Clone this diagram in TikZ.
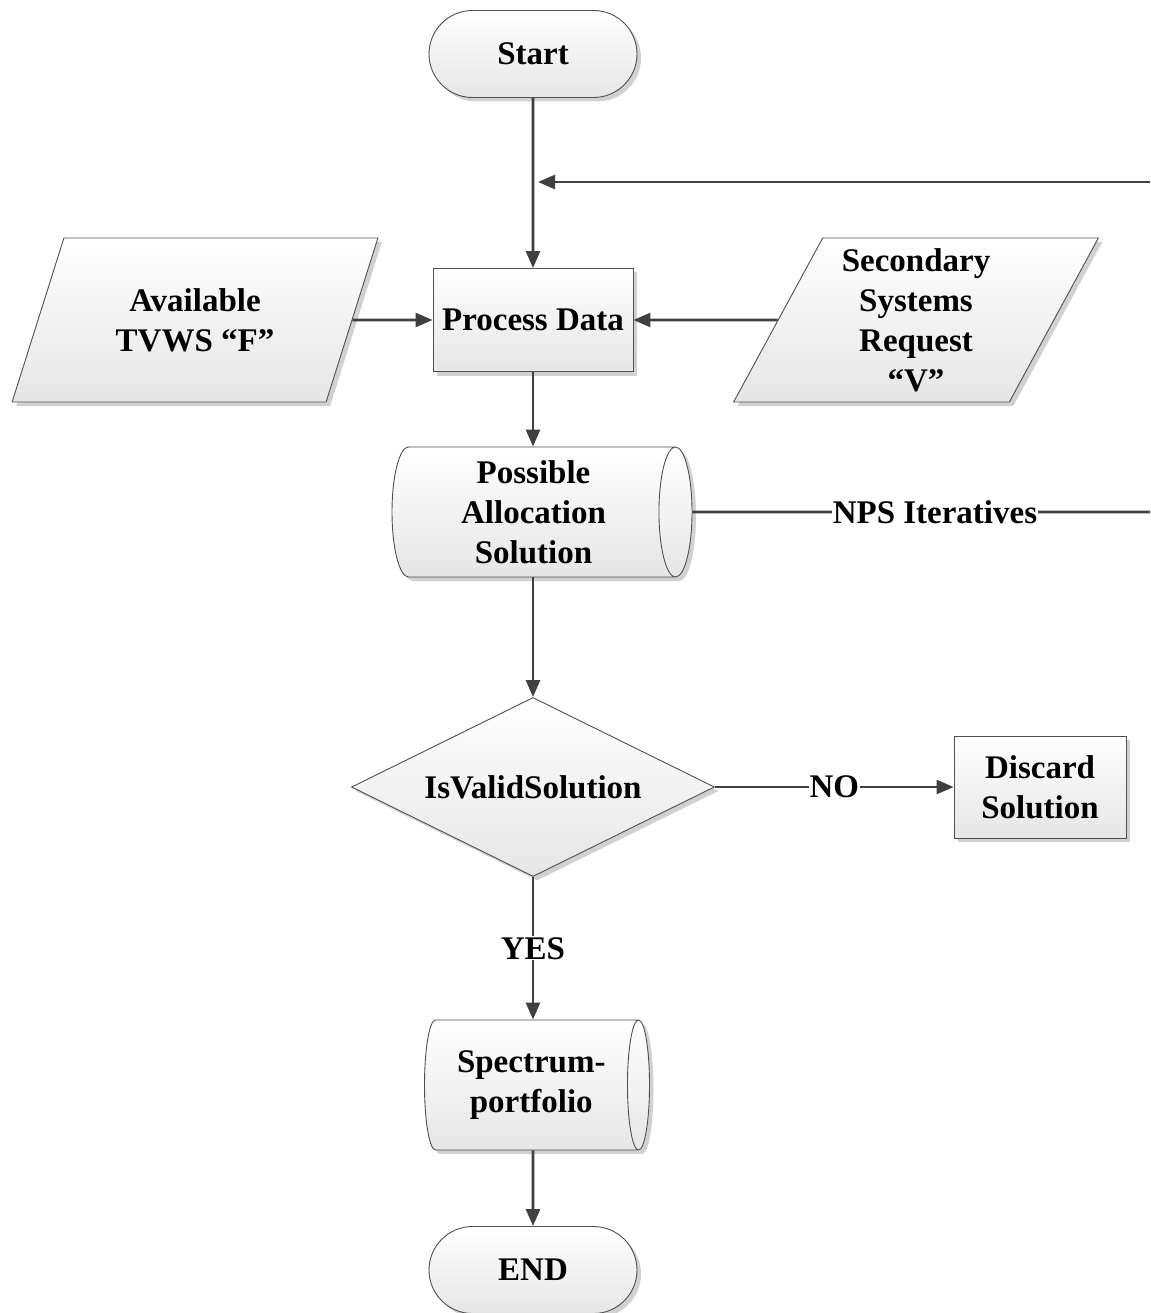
\documentclass[tikz,border=0pt]{standalone}
\usepackage{fontspec}
\setmainfont{Liberation Serif}
\usetikzlibrary{shapes.geometric, shapes.misc, arrows.meta, positioning, shadows}
\definecolor{fcLine}{HTML}{404040}
\definecolor{fcEdge}{HTML}{505050}
\definecolor{fcLow}{HTML}{E6E6E6}

\begin{document}
\begin{tikzpicture}[
  x=1pt, y=-1pt,
  font=\fontsize{33}{40}\selectfont\bfseries,
  box/.style={draw=fcEdge, line width=0.9pt, top color=white, bottom color=fcLow,
              align=center, inner sep=0pt,
              drop shadow={shadow xshift=4pt, shadow yshift=-4pt, fill=black, opacity=0.18}},
  term/.style={box, rounded rectangle, minimum width=208pt, minimum height=87pt},
  proc/.style={box, rectangle, minimum width=200pt, minimum height=103pt},
  io/.style={box, trapezium, trapezium left angle=63.7, trapezium right angle=116.3,
             trapezium stretches=true, minimum width=366pt, minimum height=164pt},
  store/.style={box, cylinder, aspect=0.32, anchor=shape center,
                minimum height=300pt, minimum width=130pt},
  decide/.style={box, diamond, aspect=2, minimum width=363pt, minimum height=179pt},
  arr/.style={-{Triangle[length=17pt, width=14pt]}, draw=fcLine, line width=2.6pt},
  lnk/.style={draw=fcLine, line width=2.6pt},
  lbl/.style={fill=white, inner sep=1pt},
]
\path[use as bounding box, fill=white] (0,0) rectangle (1150,1313);

\node[term] (start) at (533,54) {Start};
\node[proc] (process) at (533,320) {Process Data};
\node[io] (tvws) at (195,320) {Available\\TVWS “F”};
\node[io] (request) at (916,320) {Secondary\\Systems\\Request\\“V”};
\node[store] (alloc) at (542,512) {Possible\\Allocation\\Solution};
\node[decide] (valid) at (533,787) {IsValidSolution};
\node[proc, minimum width=172pt, minimum height=102pt] (discard) at (1040,787) {Discard\\Solution};
\node[store, minimum height=225pt] (portfolio) at (537,1085) {Spectrum-\\portfolio};
\node[term] (stop) at (533,1270) {END};
\coordinate (loopout) at (1150,512);
\coordinate (loopback) at (1150,182);
\coordinate (loopin) at (538,182);

\draw[arr] (start) -- (process);
\draw[arr] (loopback) -- (loopin);
\draw[arr] (tvws) -- (process);
\draw[arr] (request) -- (process);
\draw[arr] (process) -- (process |- alloc.north);
\draw[lnk] (alloc.east) -- node[lbl, pos=0.53] {NPS Iteratives} (loopout);
\draw[arr] (alloc.south -| valid.north) -- (valid);
\draw[arr] (valid) -- node[lbl] {NO} (discard);
\draw[arr] (valid) -- node[lbl] {YES} (portfolio.north -| valid.south);
\draw[arr] (portfolio.south -| stop.north) -- (stop);
\end{tikzpicture}
\end{document}
